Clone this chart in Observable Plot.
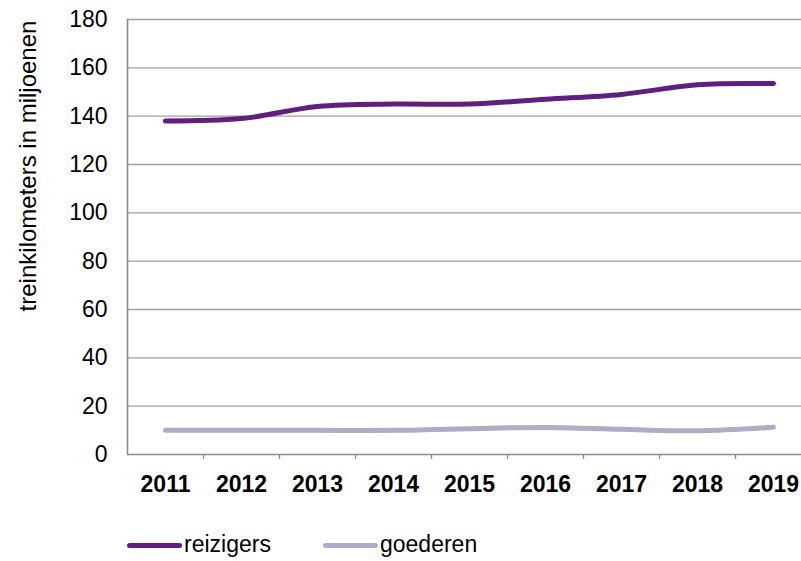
<!DOCTYPE html>
<html><head><meta charset="utf-8">
<script src="https://cdn.jsdelivr.net/npm/d3@7"></script>
<script src="https://cdn.jsdelivr.net/npm/@observablehq/plot@0.6"></script>
<style>
html,body{margin:0;padding:0;background:#fff;}
body{position:relative;width:801px;height:561px;overflow:hidden;font-family:"Liberation Sans",Arial,sans-serif;}
#chart svg{display:block;}
.sw{position:absolute;height:5px;border-radius:3px;}
.lt{position:absolute;font-size:23px;line-height:23px;color:#000;white-space:nowrap;}
</style></head>
<body><div id="chart"></div><div id="legend"></div>
<script>
const years = [2011, 2012, 2013, 2014, 2015, 2016, 2017, 2018, 2019];
const reizigers = [138, 139, 144, 145, 145, 147, 149, 153, 153.5];
const goederen = [10, 10, 10, 10, 10.7, 11.2, 10.4, 9.8, 11.3];
const yTicks = [0, 20, 40, 60, 80, 100, 120, 140, 160, 180];
const seriesNames = ["reizigers", "goederen"];
const seriesColors = ["#5f1f7f", "#b1aac8"];
const yTitle = "treinkilometers in miljoenen";

const seriesValues = [reizigers, goederen];
const data = seriesNames.flatMap((s, i) => years.map((y, j) => ({year: y, value: seriesValues[i][j], series: s})));
const boundaries = years.slice(1).map(y => y - 0.5);

const chart = Plot.plot({
  width: 801, height: 510,
  marginLeft: 127, marginRight: 0, marginTop: 19, marginBottom: 56,
  style: {fontFamily: '"Liberation Sans", Arial, sans-serif', fontSize: "23px", color: "#000", background: "white", overflow: "visible"},
  x: {domain: [years[0] - 0.5, years[years.length - 1] + 0.5], range: [127, 811], label: null},
  y: {domain: [0, 180], label: null},
  color: {domain: seriesNames, range: seriesColors},
  marks: [
    Plot.ruleY(yTicks.filter(d => d > 0), {stroke: "#a0a0a0", strokeWidth: 1.3}),
    Plot.axisY({ticks: yTicks, tickSize: 0, tickPadding: 20, label: null, tickFormat: d => String(d)}),
    Plot.axisX({ticks: boundaries, tickSize: 5, tickFormat: () => "", stroke: "#8a8a8a", strokeWidth: 1.3, label: null}),
    Plot.axisX({ticks: years, tickSize: 0, tickPadding: 21, tickFormat: d => String(d), fontWeight: "bold", label: null}),
    Plot.ruleX([years[0] - 0.5], {stroke: "#8a8a8a", strokeWidth: 1.6}),
    Plot.ruleY([0], {stroke: "#8a8a8a", strokeWidth: 1.6}),
    Plot.line(data, {x: "year", y: "value", z: "series", stroke: "series", strokeWidth: 5, curve: "catmull-rom", strokeLinecap: "round"}),
    Plot.text([yTitle], {frameAnchor: "top-left", rotate: -90, dx: -109, dy: 146.5, fontSize: 24, textAnchor: "middle"})
  ]
});
document.getElementById("chart").appendChild(chart);

const legend = document.getElementById("legend");
const swLeft = [127, 323];
seriesNames.forEach((s, i) => {
  const sw = document.createElement("div");
  sw.className = "sw";
  sw.style.left = swLeft[i] + "px";
  sw.style.top = "543px";
  sw.style.width = "55px";
  sw.style.background = seriesColors[i];
  legend.appendChild(sw);
  const t = document.createElement("div");
  t.className = "lt";
  t.style.left = (swLeft[i] + 57) + "px";
  t.style.top = "533px";
  t.textContent = s;
  legend.appendChild(t);
});
</script>
</body></html>
